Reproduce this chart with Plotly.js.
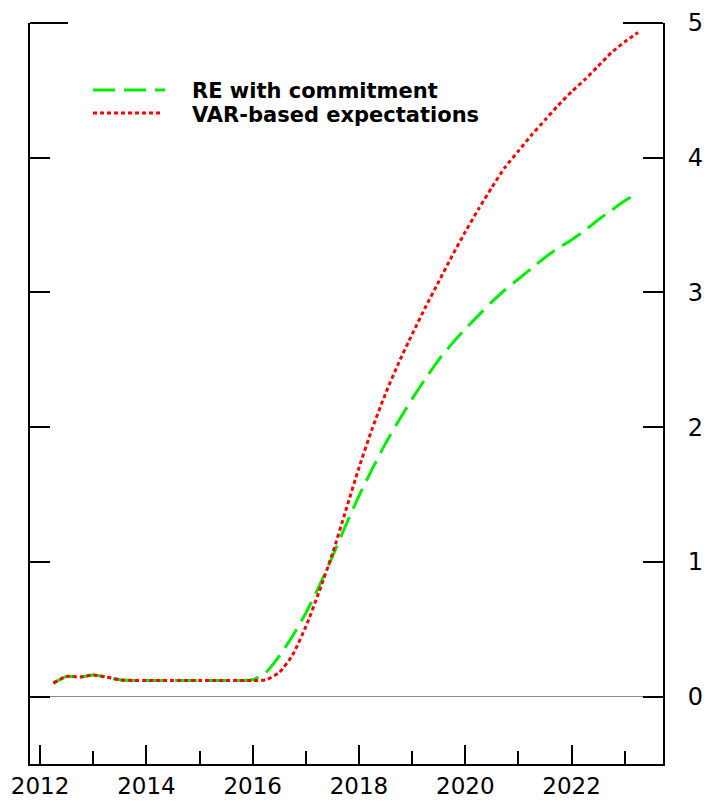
<!DOCTYPE html>
<html>
<head>
<meta charset="utf-8">
<script src="https://cdn.plot.ly/plotly-3.0.1.min.js"></script>
<style>html,body{margin:0;padding:0;background:#fff;}#chart{width:704px;height:802px;}</style>
</head>
<body>
<div id="chart"></div>
<script>
// Quarterly dates
const dates = [2012.25,2012.5,2012.75,2013.0,2013.25,2013.5,2013.75,2014.0,2014.25,2014.5,2014.75,2015.0,2015.25,2015.5,2015.75,2016.0,2016.25,2016.5,2016.75,2017.0,2017.25,2017.5,2017.75,2018.0,2018.25,2018.5,2018.75,2019.0,2019.25,2019.5,2019.75,2020.0,2020.25,2020.5,2020.75,2021.0,2021.25,2021.5,2021.75,2022.0,2022.25,2022.5,2022.75,2023.0,2023.25];
const reCommitment = [0.10,0.15,0.145,0.16,0.145,0.125,0.12,0.12,0.12,0.12,0.12,0.12,0.12,0.12,0.12,0.125,0.18,0.30,0.45,0.62,0.82,1.04,1.27,1.49,1.69,1.88,2.05,2.21,2.36,2.50,2.62,2.73,2.83,2.93,3.02,3.10,3.18,3.26,3.33,3.39,3.46,3.54,3.61,3.68,3.74];
const varExpect = [0.10,0.15,0.145,0.16,0.145,0.125,0.12,0.12,0.12,0.12,0.12,0.12,0.12,0.12,0.12,0.12,0.125,0.18,0.31,0.52,0.78,1.06,1.38,1.70,1.99,2.25,2.48,2.69,2.89,3.08,3.27,3.45,3.62,3.78,3.93,4.05,4.17,4.28,4.39,4.49,4.58,4.68,4.78,4.86,4.93];
const seriesNames = ["RE with commitment","VAR-based expectations"];
const yTicks = [0,1,2,3,4,5];

const traces = [
  {x: dates, y: reCommitment, mode:'lines', name: seriesNames[0], showlegend:false,
   line:{color:'#00ee00', width:3, dash:'22px,9px', shape:'spline', smoothing:0.6}},
  {x: dates, y: varExpect, mode:'lines', name: seriesNames[1], showlegend:false,
   line:{color:'#ff0000', width:3, dash:'4px,3px', shape:'spline', smoothing:0.6}}
];

const W = 633, H = 741;
const layout = {
  width:704, height:802,
  margin:{l:30, r:41, t:23, b:38},
  paper_bgcolor:'#fff', plot_bgcolor:'#fff',
  font:{family:'DejaVu Sans, Arial, sans-serif', color:'#000'},
  xaxis:{range:[2011.81, 2023.72], tick0:2012, dtick:2, ticks:'inside', ticklen:19, tickwidth:2,
    tickcolor:'#000', showline:true, linewidth:2, linecolor:'#000', showgrid:false, zeroline:false,
    tickfont:{size:23, family:'DejaVu Sans, Arial, sans-serif'}, ticklabelstandoff:0,
    minor:{dtick:1, tick0:2012, ticks:'inside', ticklen:13, tickwidth:2, tickcolor:'#000', showgrid:false}},
  yaxis:{range:[-0.5, 5], side:'right', tickvals:yTicks, ticktext:yTicks.map(String),
    ticks:'inside', ticklen:20, tickwidth:2, tickcolor:'#000', showline:true, linewidth:2, linecolor:'#000',
    mirror:'ticks', showgrid:false, zeroline:true, zerolinecolor:'#888', zerolinewidth:1.5,
    tickfont:{size:24, family:'DejaVu Sans, Arial, sans-serif'}, ticklabelstandoff:18},
  shapes:[
    {type:'line', xref:'paper', yref:'paper', x0:0, x1:38/W, y0:1, y1:1, line:{color:'#000', width:2}},
    {type:'line', xref:'paper', yref:'paper', x0:1-40/W, x1:1, y0:1, y1:1, line:{color:'#000', width:2}},
    {type:'line', xref:'paper', yref:'paper', x0:(93-30)/W, x1:(165-30)/W, y0:1-(90-23)/H, y1:1-(90-23)/H,
     line:{color:'#00ee00', width:3, dash:'22px,9px'}},
    {type:'line', xref:'paper', yref:'paper', x0:(93-30)/W, x1:(160-30)/W, y0:1-(113-23)/H, y1:1-(113-23)/H,
     line:{color:'#ff0000', width:3, dash:'4px,3px'}}
  ],
  annotations:[
    {xref:'paper', yref:'paper', x:(190-30)/W, y:1-(90.5-23)/H, xanchor:'left', yanchor:'middle', showarrow:false,
     text:'<b>'+seriesNames[0]+'</b>', font:{size:21, family:'DejaVu Sans, Arial, sans-serif', color:'#000'}},
    {xref:'paper', yref:'paper', x:(190-30)/W, y:1-(115-23)/H, xanchor:'left', yanchor:'middle', showarrow:false,
     text:'<b>'+seriesNames[1]+'</b>', font:{size:21, family:'DejaVu Sans, Arial, sans-serif', color:'#000'}}
  ]
};
Plotly.newPlot('chart', traces, layout, {displayModeBar:false, staticPlot:true});
</script>
</body>
</html>
